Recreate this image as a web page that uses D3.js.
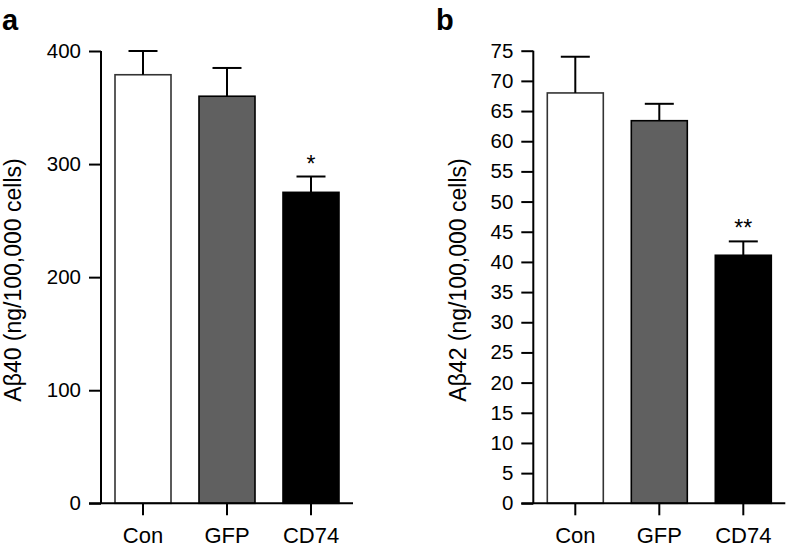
<!DOCTYPE html>
<html>
<head>
<meta charset="utf-8">
<script src="https://cdn.jsdelivr.net/npm/d3@7"></script>
<style>
  html, body { margin: 0; padding: 0; background: #fff; }
  svg { display: block; font-family: "Liberation Sans", Arial, Helvetica, sans-serif; }
</style>
</head>
<body>
<svg id="chart" width="789" height="549"></svg>
<script>
// ---- data ----
const categories = ["Con", "GFP", "CD74"];
const ab40Values = [379, 360, 275];
const ab40ErrorTops = [400, 385, 289];
const ab40Ticks = [0, 100, 200, 300, 400];
const ab40Marks = ["", "", "*"];

const ab42Values = [68.0, 63.4, 41.1];
const ab42ErrorTops = [74.0, 66.2, 43.4];
const ab42Ticks = [0, 5, 10, 15, 20, 25, 30, 35, 40, 45, 50, 55, 60, 65, 70, 75];
const ab42Marks = ["", "", "**"];

const barFills = ["#ffffff", "#606060", "#000000"];
const barStrokes = ["#333333", "#000000", "#000000"];

const svg = d3.select("#chart");

function drawPanel(opts) {
  const g = svg.append("g").attr("transform", `translate(${opts.left},0)`);
  const top = opts.top, bottom = 503.3, width = 252, tickLen = 12;

  const y = d3.scaleLinear().domain(opts.domain).range([bottom, top]);
  const x = d3.scaleBand().domain(categories).range([0, width])
    .paddingInner(1 / 3).paddingOuter(1 / 6);

  // bars
  g.selectAll("rect.bar").data(opts.values).join("rect")
    .attr("class", "bar")
    .attr("x", (d, i) => x(categories[i]))
    .attr("width", x.bandwidth())
    .attr("y", d => y(d))
    .attr("height", d => bottom - y(d))
    .attr("fill", (d, i) => barFills[i])
    .attr("stroke", (d, i) => barStrokes[i])
    .attr("stroke-width", 1.6);

  // error bars
  const capHalf = 14.5;
  opts.errTops.forEach((e, i) => {
    const cx = x(categories[i]) + x.bandwidth() / 2;
    g.append("line").attr("x1", cx).attr("x2", cx)
      .attr("y1", y(opts.values[i])).attr("y2", y(e))
      .attr("stroke", "#000").attr("stroke-width", 2);
    g.append("line").attr("x1", cx - capHalf).attr("x2", cx + capHalf)
      .attr("y1", y(e)).attr("y2", y(e))
      .attr("stroke", "#000").attr("stroke-width", 2);
    if (opts.marks[i]) {
      g.append("text").attr("x", cx).attr("y", y(e) - 5)
        .attr("text-anchor", "middle")
        .attr("font-size", 23)
        .attr("fill", "#000").text(opts.marks[i]);
    }
  });

  // y axis
  const yAxis = g.append("g").call(
    d3.axisLeft(y).tickValues(opts.ticks).tickSize(tickLen).tickPadding(8).tickSizeOuter(0)
  );
  yAxis.select(".domain").remove();
  yAxis.selectAll(".tick line").attr("stroke", "#000").attr("stroke-width", 2);
  yAxis.selectAll(".tick text").attr("font-size", 20.5).attr("fill", "#000")
    .attr("font-family", "'Liberation Sans', Arial, sans-serif");
  g.append("line").attr("x1", 0).attr("x2", 0).attr("y1", y(opts.domain[1])).attr("y2", bottom)
    .attr("stroke", "#000").attr("stroke-width", 2);

  // x axis
  const xAxis = g.append("g").attr("transform", `translate(0,${bottom})`).call(
    d3.axisBottom(x).tickSize(tickLen).tickPadding(12).tickSizeOuter(0)
  );
  xAxis.select(".domain").remove();
  xAxis.selectAll(".tick line").attr("stroke", "#000").attr("stroke-width", 2);
  xAxis.selectAll(".tick text").attr("font-size", 22).attr("fill", "#000")
    .attr("font-family", "'Liberation Sans', Arial, sans-serif");
  g.append("line").attr("x1", -tickLen).attr("x2", width).attr("y1", bottom).attr("y2", bottom)
    .attr("stroke", "#000").attr("stroke-width", 2);

  // y label
  svg.append("text")
    .attr("transform", `translate(${opts.labelX},280) rotate(-90)`)
    .attr("text-anchor", "middle")
    .attr("font-size", 23).attr("fill", "#000")
    .text(opts.yLabel);

  // panel letter
  svg.append("text").attr("x", opts.letterX).attr("y", 30)
    .attr("font-size", 29).attr("font-weight", "bold").attr("fill", "#000")
    .text(opts.letter);
}

drawPanel({
  left: 101, top: 51, domain: [0, 400], ticks: ab40Ticks,
  values: ab40Values, errTops: ab40ErrorTops, marks: ab40Marks,
  yLabel: "Aβ40 (ng/100,000 cells)", labelX: 21, letter: "a", letterX: 2
});
drawPanel({
  left: 533.3, top: 50.7, domain: [0, 75], ticks: ab42Ticks,
  values: ab42Values, errTops: ab42ErrorTops, marks: ab42Marks,
  yLabel: "Aβ42 (ng/100,000 cells)", labelX: 466, letter: "b", letterX: 436
});
</script>
</body>
</html>
